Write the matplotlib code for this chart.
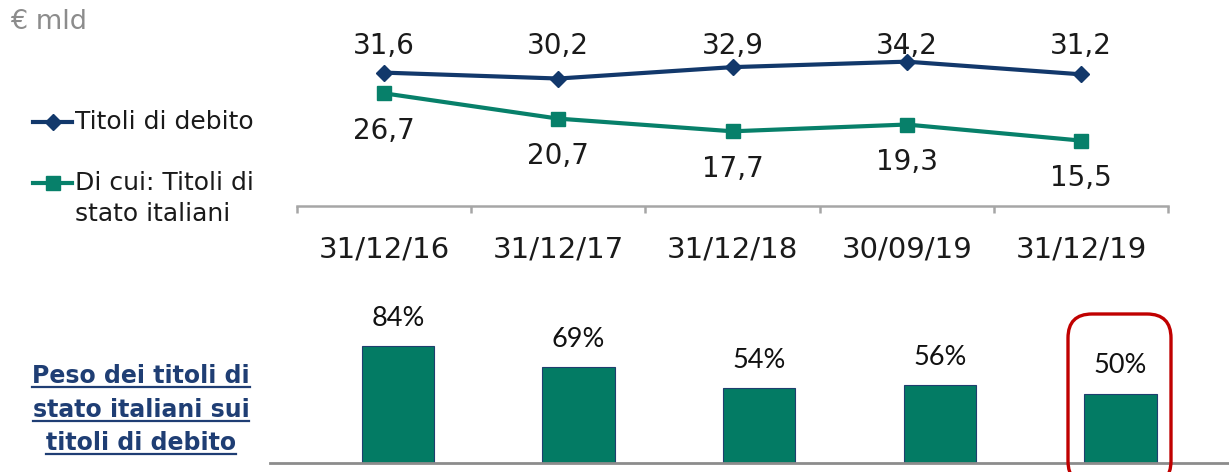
import matplotlib
matplotlib.use('Agg')
import matplotlib.pyplot as plt
import matplotlib.transforms as mtransforms
from matplotlib.lines import Line2D
from matplotlib.patches import FancyBboxPatch
import numpy as np

# data
dates = ['31/12/16', '31/12/17', '31/12/18', '30/09/19', '31/12/19']
titoli_debito = [31.6, 30.2, 32.9, 34.2, 31.2]
titoli_stato = [26.7, 20.7, 17.7, 19.3, 15.5]
peso_pct = [84, 69, 54, 56, 50]

blue = '#12386B'
green = '#07806A'
bar_green = '#037B64'
txt = '#1A1A1A'
grey_axis = '#A6A6A6'

plt.rcParams['font.family'] = 'DejaVu Sans'

W, H = 1229, 472
fig = plt.figure(figsize=(W / 100, H / 100), dpi=100)


def box(x0, y0, x1, y1):
    # pixel box (y from top) -> figure fraction rect
    return [x0 / W, 1 - y1 / H, (x1 - x0) / W, (y1 - y0) / H]


# line chart
ax = fig.add_axes(box(297, 11, 1168, 206))
x = np.arange(len(dates))
ax.plot(x, titoli_debito, color=blue, lw=3, marker='D', ms=8.5, zorder=3)
ax.plot(x, titoli_stato, color=green, lw=3, marker='s', ms=9.5, zorder=3)
ax.set_xlim(-0.5, 4.5)
ax.set_ylim(0, 46.2)

lab_tr = mtransforms.blended_transform_factory(ax.transData, ax.transAxes)
for i, v in enumerate(titoli_debito):
    ax.text(i, 0.82, f'{v:.1f}'.replace('.', ','), transform=lab_tr,
            ha='center', va='center', fontsize=20, color=txt)
for i, v in enumerate(titoli_stato):
    ax.annotate(f'{v:.1f}'.replace('.', ','), (i, v), xytext=(0, -27),
                textcoords='offset points', ha='center', va='center',
                fontsize=20, color=txt)

for s in ['top', 'right', 'left']:
    ax.spines[s].set_visible(False)
ax.spines['bottom'].set_color(grey_axis)
ax.spines['bottom'].set_linewidth(1.8)
ax.set_yticks([])
ax.set_xticks(x)
ax.set_xticklabels(dates, fontsize=21, color=txt)
ax.tick_params(axis='x', which='major', length=0, pad=21)
ax.set_xticks(np.arange(-0.5, 5, 1), minor=True)
ax.tick_params(axis='x', which='minor', length=5, width=1.8, color=grey_axis)
ax.patch.set_alpha(0)

# bar chart
bx = fig.add_axes(box(270, 290, 1229, 463))
bx.bar(x, peso_pct, width=0.40, color=bar_green, edgecolor='#1F3E6E',
       linewidth=0.8, zorder=2)
bx.set_xlim(-0.708, 4.6)
bx.set_ylim(0, 124.5)
for i, v in enumerate(peso_pct):
    bx.annotate(f'{v}%', (i, v), xytext=(0, 20), textcoords='offset points',
                ha='center', va='center', fontsize=19.5, color='#111111',
                family='Lato')
for s in ['top', 'right', 'left']:
    bx.spines[s].set_visible(False)
bx.spines['bottom'].set_color('#8C8C8C')
bx.spines['bottom'].set_linewidth(2)
bx.set_xticks([])
bx.set_yticks([])
bx.patch.set_alpha(0)

# red rounded highlight around last bar
hl = FancyBboxPatch((1068, H - 485), 103, 485 - 314,
                    boxstyle='round,pad=0,rounding_size=24',
                    transform=mtransforms.IdentityTransform(),
                    fill=False, edgecolor='#C00000', linewidth=2.4)
fig.add_artist(hl)

# unit
fig.text(10 / W, 1 - 22 / H, '€ mld', fontsize=19.5, color='#8C8C8C',
         ha='left', va='center')

# legend, drawn by hand
for yy, col, mk, ms in [(122, blue, 'D', 8.5), (183, green, 's', 9.5)]:
    yf = 1 - yy / H
    fig.add_artist(Line2D([33 / W, 72 / W], [yf, yf], color=col, lw=3))
    fig.add_artist(Line2D([52.5 / W], [yf], color=col, marker=mk, ms=ms))
fig.text(75 / W, 1 - 122 / H, 'Titoli di debito', fontsize=18, color=txt,
         ha='left', va='center')
fig.text(75 / W, 1 - 183 / H, 'Di cui: Titoli di', fontsize=18, color=txt,
         ha='left', va='center')
fig.text(75 / W, 1 - 214 / H, 'stato italiani', fontsize=18, color=txt,
         ha='left', va='center')

# left caption, bold and underlined
caption = ['Peso dei titoli di', 'stato italiani sui', 'titoli di debito']
baselines = [383, 417, 450]
cap_texts = []
for line, base in zip(caption, baselines):
    t = fig.text(141 / W, 1 - base / H, line, fontsize=17, fontweight='bold',
                 color='#1F3E74', ha='center', va='baseline')
    cap_texts.append((t, base))
fig.canvas.draw()
rend = fig.canvas.get_renderer()
for t, base in cap_texts:
    bb = t.get_window_extent(rend)
    yf = 1 - (base + 4) / H
    fig.add_artist(Line2D([bb.x0 / W, bb.x1 / W], [yf, yf],
                          color='#1F3E74', lw=1.6))

fig.savefig('out.png', dpi=100)
